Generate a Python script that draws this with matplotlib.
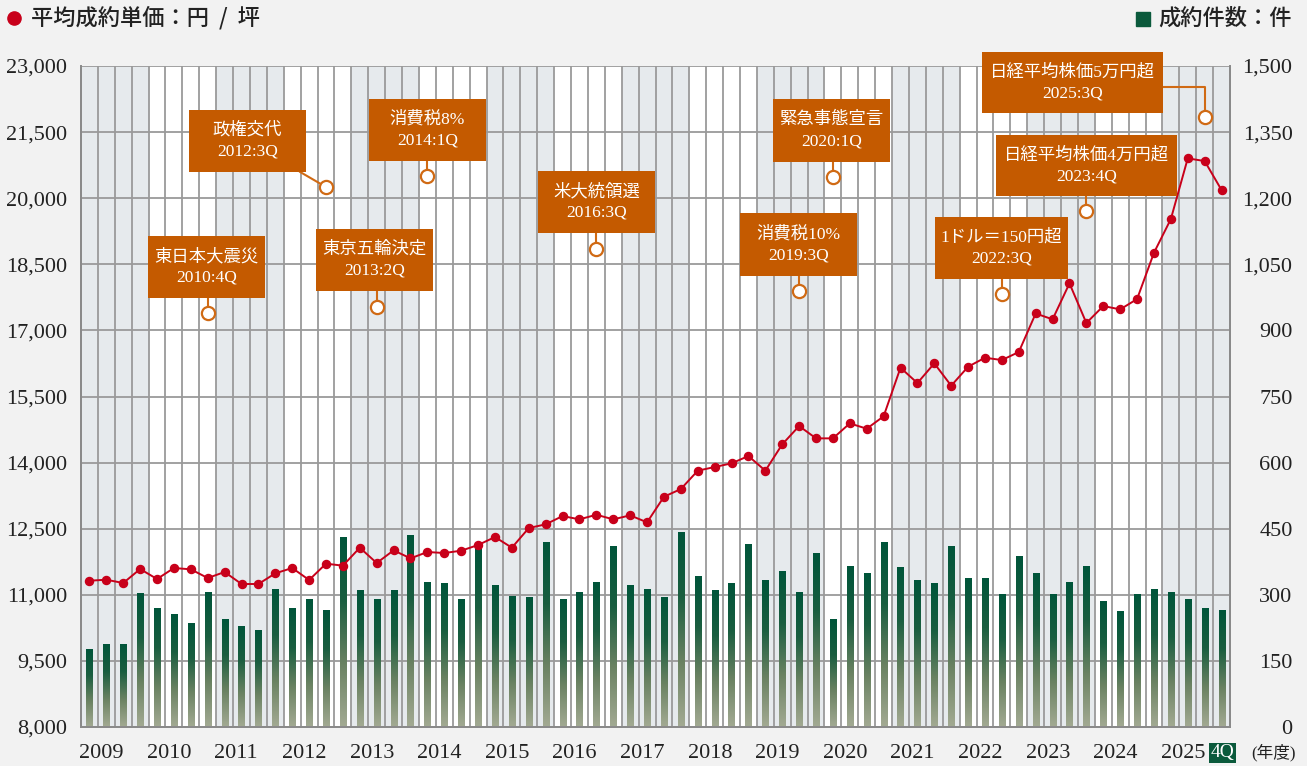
import numpy as np
import matplotlib
matplotlib.use('Agg')
import matplotlib.pyplot as plt
import matplotlib.transforms as mtransforms
from matplotlib.colors import LinearSegmentedColormap
from matplotlib.patches import Rectangle
from matplotlib.lines import Line2D

# ---------------- data ----------------
years = list(range(2009, 2026))
quarter_names = ['1Q', '2Q', '3Q', '4Q']

price = [11320, 11342, 11267, 11585,
         11358, 11608, 11578, 11381,
         11517, 11245, 11245, 11487,
         11608, 11336, 11706, 11661,
         12069, 11721, 12009, 11827,
         11971, 11948, 12001, 12130,
         12311, 12069, 12515, 12599,
         12787, 12712, 12817, 12712,
         12803, 12644, 13225, 13400,
         13816, 13900, 13983, 14149,
         13816, 14414, 14830, 14550,
         14550, 14890, 14769, 15050,
         16153, 15805, 16252, 15745,
         16176, 16380, 16327, 16509,
         17384, 17251, 18067, 17167,
         17553, 17477, 17711, 18762,
         19527, 20904, 20843, 20185]

contracts = [176, 188, 188, 304,
             269, 256, 236, 306,
             244, 228, 220, 313,
             269, 289, 265, 430,
             309, 289, 309, 434,
             329, 325, 289, 405,
             321, 297, 293, 418,
             289, 305, 329, 410,
             321, 313, 293, 442,
             341, 309, 325, 414,
             333, 354, 305, 394,
             244, 365, 349, 418,
             362, 333, 325, 410,
             337, 337, 301, 386,
             349, 301, 329, 365,
             285, 261, 301, 313,
             305, 289, 269, 265]

left_ticks = [8000, 9500, 11000, 12500, 14000, 15500, 17000, 18500, 20000, 21500, 23000]
right_ticks = [0, 150, 300, 450, 600, 750, 900, 1050, 1200, 1350, 1500]

event_names = ['東日本大震災', '政権交代', '東京五輪決定', '消費税8%', '米大統領選',
               '消費税10%', '緊急事態宣言', '1ドル＝150円超', '日経平均株価4万円超', '日経平均株価5万円超']
event_quarters = ['2010:4Q', '2012:3Q', '2013:2Q', '2014:1Q', '2016:3Q',
                  '2019:3Q', '2020:1Q', '2022:3Q', '2023:4Q', '2025:3Q']

# layout of callouts: (box x0, box x1, box y0, box y1, marker y, connector style)
event_layout = [
    (3.97, 10.89, 17735, 19142, 17395, 'v'),
    (6.39, 13.32, 20595, 22002, 20254, 'diag'),
    (13.91, 20.83, 17894, 19301, 17531, 'v'),
    (17.04, 23.97, 20844, 22251, 20504, 'v'),
    (27.05, 33.97, 19210, 20617, 18847, 'v'),
    (39.00, 45.93, 18234, 19664, 17894, 'v'),
    (40.95, 47.88, 20821, 22251, 20481, 'v'),
    (50.54, 58.41, 18166, 19573, 17826, 'v'),
    (54.15, 64.86, 20050, 21434, 19710, 'v'),
    (53.32, 64.03, 21934, 23318, 21843, 'elbow'),
]

# ---------------- style ----------------
FONT = ['Liberation Serif', 'Noto Sans CJK JP', 'DejaVu Sans']
JP = ['Noto Sans CJK JP', 'DejaVu Sans']
plt.rcParams['font.family'] = FONT

RED = '#c8001a'
ORANGE_BOX = '#c45a00'
ORANGE_LINE = '#d06a14'
GREEN = '#0b5a3c'
BAND = '#e6eaed'
GRID = '#9a9a9a'
TXT = '#222222'

W, H = 1307, 766
fig = plt.figure(figsize=(W / 100, H / 100), dpi=100, facecolor='#f2f2f2')
rect = [81 / W, 1 - 727 / H, 1149 / W, 661 / H]
ax = fig.add_axes(rect)
ax2 = ax.twinx()
ax.set_zorder(3)
ax.patch.set_visible(False)
ax2.set_zorder(1)
ax2.patch.set_visible(True)
ax2.patch.set_facecolor('white')

n = len(price)
xs = np.arange(n) + 0.5

# background bands and grid (on bar axis)
for k, yr in enumerate(years):
    if k % 2 == 0:
        ax2.axvspan(4 * k, 4 * k + 4, color=BAND, lw=0, zorder=0)
for i in range(1, n):
    ax2.axvline(i, color=GRID, lw=1.3, zorder=1)
for t in right_ticks:
    ax2.axhline(t, color=GRID, lw=1.3, zorder=1)

# gradient bars
cmap = LinearSegmentedColormap.from_list('g', ['#a3aa93', '#6a8262', '#1a5e40', '#00553a'])
grad = np.linspace(0, 1, 256).reshape(-1, 1)
bw = 0.36
for x, v in zip(xs, contracts):
    ax2.imshow(grad, extent=(x - bw / 2, x + bw / 2, 0, v), origin='lower',
               cmap=cmap, aspect='auto', zorder=2, interpolation='bilinear')

ax2.set_xlim(0, n)
ax2.set_ylim(0, 1500)
ax2.set_yticks(right_ticks)
ax2.set_yticklabels([f'{t:,}' for t in right_ticks])
ax2.tick_params(axis='y', length=0, pad=45, labelsize=16, labelcolor=TXT)
for lab in ax2.get_yticklabels():
    lab.set_horizontalalignment('right')

# price line
ax.plot(xs, price, color=RED, lw=1.4, marker='o', ms=5.8, zorder=3)
ax.set_xlim(0, n)
ax.set_ylim(8000, 23000)
ax.set_yticks(left_ticks)
ax.set_yticklabels([f'{t:,}' for t in left_ticks])
ax.tick_params(axis='y', length=0, pad=10, labelsize=16, labelcolor=TXT)
ax.set_xticks([])
ax2.set_xticks([])
for a in (ax, ax2):
    for s in a.spines.values():
        s.set_color('#8a8a8a')
        s.set_linewidth(1.3)
    a.spines['top'].set_visible(False)

# callouts
for name, qlabel, (bx0, bx1, by0, by1, my, style) in zip(event_names, event_quarters, event_layout):
    yr, q = qlabel.split(':')
    idx = (int(yr) - years[0]) * 4 + int(q[0]) - 1
    cx = idx + 0.5
    ax.add_patch(Rectangle((bx0, by0), bx1 - bx0, by1 - by0, facecolor=ORANGE_BOX,
                           edgecolor='none', zorder=6, clip_on=False))
    cy = (by0 + by1) / 2
    ax.text((bx0 + bx1) / 2, cy, f'{name}\n{qlabel}', color='white', fontsize=12.5,
            ha='center', va='center', linespacing=1.4, zorder=7, clip_on=False)
    if style == 'v':
        ax.plot([cx, cx], [by0, my], color=ORANGE_LINE, lw=1.5, zorder=5, clip_on=False)
    elif style == 'diag':
        ax.plot([bx1 - 0.35, cx], [by0, my], color=ORANGE_LINE, lw=1.5, zorder=5, clip_on=False)
    else:
        ym = (by0 + by1) / 2 - 100
        ax.plot([bx1, cx, cx], [ym, ym, my], color=ORANGE_LINE, lw=1.5, zorder=5, clip_on=False)
    ax.plot([cx], [my], marker='o', ms=9.5, mfc='white', mec=ORANGE_LINE, mew=1.6,
            zorder=8, clip_on=False)

# x labels (fiscal years)
trans = mtransforms.blended_transform_factory(ax.transData, ax.transAxes)
ylab = (727 - 753) / 661
for k, yr in enumerate(years):
    ax.text(4 * k - 0.1, ylab, str(yr), transform=trans, ha='left', va='center',
            fontsize=16, color=TXT, clip_on=False)
ax.text(n - 0.45, ylab, quarter_names[-1], transform=trans, ha='center', va='center',
        fontsize=14, color='white', clip_on=False,
        bbox=dict(boxstyle='square,pad=0.08', fc=GREEN, ec='none'))
fig.text(1273 / W, 1 - 753 / H, '(年度)', ha='center', va='center', fontsize=12,
         color=TXT)

# legends / titles
fig.add_artist(Line2D([14 / W], [1 - 18 / H], marker='o', ms=9.5, color=RED,
                      transform=fig.transFigure))
fig.text(31 / W, 1 - 18 / H, '平均成約単価：円  /  坪', ha='left', va='center',
         fontsize=16, color=TXT, family=JP, weight='medium')
fig.add_artist(Line2D([1143 / W], [1 - 18.5 / H], marker='s', ms=10, color=GREEN,
                      transform=fig.transFigure))
fig.text(1292 / W, 1 - 18 / H, '成約件数：件', ha='right', va='center',
         fontsize=16, color=TXT, family=JP, weight='medium')

fig.savefig('out.png', dpi=100, facecolor=fig.get_facecolor())
